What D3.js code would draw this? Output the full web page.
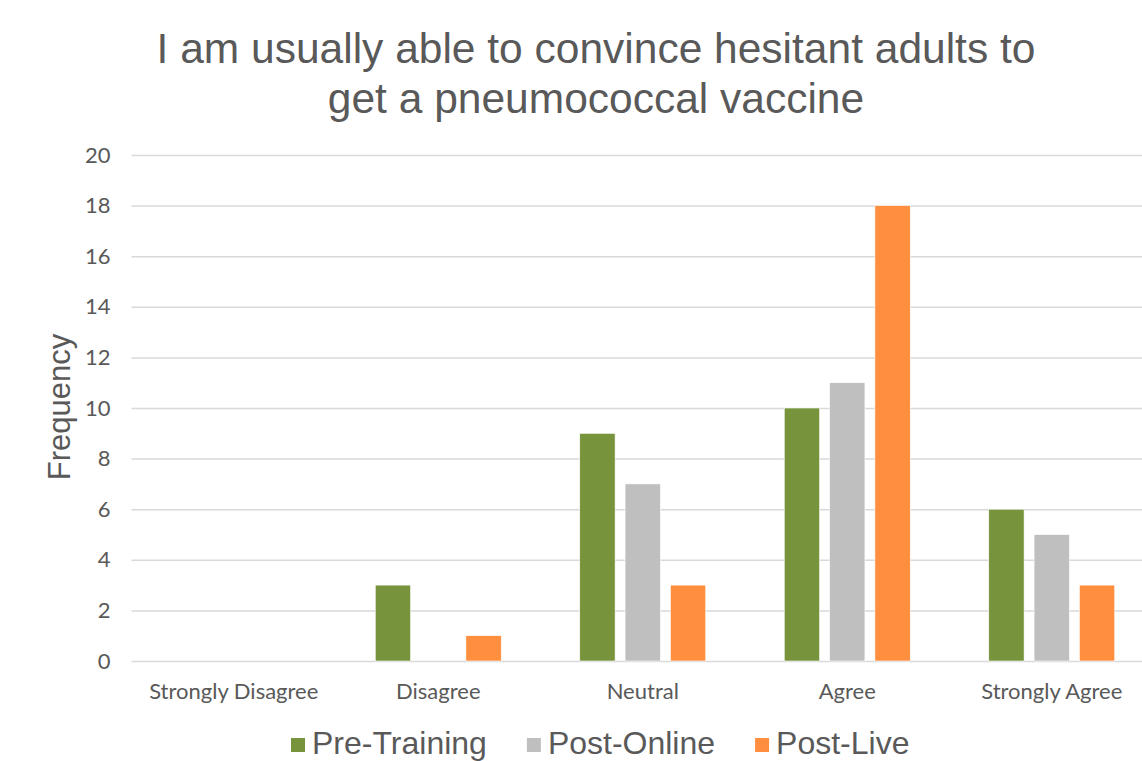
<!DOCTYPE html>
<html>
<head>
<meta charset="utf-8">
<script src="https://cdn.jsdelivr.net/npm/d3@7/dist/d3.min.js"></script>
<style>
  html, body { margin: 0; padding: 0; background: #fff; overflow: hidden; }
  svg { display: block; }
</style>
</head>
<body>
<svg id="chart" width="1142" height="761"></svg>
<script>
const titleLines = ["I am usually able to convince hesitant adults to", "get a pneumococcal vaccine"];
const yLabel = "Frequency";
const categories = ["Strongly Disagree", "Disagree", "Neutral", "Agree", "Strongly Agree"];
const seriesNames = ["Pre-Training", "Post-Online", "Post-Live"];
const preTraining = [0, 3, 9, 10, 6];
const postOnline = [0, 0, 7, 11, 5];
const postLive = [0, 1, 3, 18, 3];
const yTicks = [0, 2, 4, 6, 8, 10, 12, 14, 16, 18, 20];
const colors = ["#77933C", "#BFBFBF", "#FF8F3F"];

const seriesValues = [preTraining, postOnline, postLive];
const svg = d3.select("#chart");
const textColor = "#595959";

const x = d3.scaleBand().domain(categories).range([131.5, 1154]).padding(0);
const y = d3.scaleLinear().domain([0, 20]).range([661, 155]);
const groupW = 126;
const xi = d3.scaleBand().domain(seriesNames).range([0, groupW]).paddingInner(0.22);

// gridlines
const yAxis = d3.axisLeft(y).tickValues(yTicks).tickSize(-(1154 - 131.5)).tickPadding(21);
const gAxis = svg.append("g").attr("transform", "translate(131.5,0)").call(yAxis);
gAxis.select(".domain").remove();
gAxis.selectAll(".tick line").attr("stroke", "#D9D9D9").attr("stroke-width", 1.5);
gAxis.selectAll(".tick text")
  .attr("fill", textColor)
  .style("font-family", "Lato, 'Open Sans', sans-serif")
  .style("font-size", "22px");

// bars
const groups = svg.append("g").selectAll("g")
  .data(categories)
  .join("g")
  .attr("transform", d => `translate(${x(d) + x.bandwidth() / 2 - groupW / 2},0)`);

groups.selectAll("rect")
  .data((d, i) => seriesNames.map((s, j) => ({ s, v: seriesValues[j][i], c: colors[j] })))
  .join("rect")
  .filter(d => d.v > 0)
  .attr("x", d => xi(d.s))
  .attr("width", xi.bandwidth())
  .attr("y", d => y(d.v))
  .attr("height", d => y(0) - y(d.v))
  .attr("fill", d => d.c)
  .attr("stroke", "#ffffff")
  .attr("stroke-width", 0.6);

// x axis labels
const xAxis = d3.axisBottom(x).tickSize(0).tickPadding(0);
const gx = svg.append("g").attr("transform", "translate(0,661)").call(xAxis);
gx.select(".domain").remove();
gx.selectAll(".tick text")
  .attr("y", 38)
  .attr("dy", null)
  .attr("fill", textColor)
  .style("font-family", "Lato, 'Open Sans', sans-serif")
  .style("font-size", "22px");

// title
svg.append("g").selectAll("text")
  .data(titleLines)
  .join("text")
  .attr("x", 596)
  .attr("y", (d, i) => 63 + i * 50)
  .attr("text-anchor", "middle")
  .attr("fill", textColor)
  .style("font-family", "'Liberation Sans', Arial, sans-serif")
  .style("font-size", "42.5px")
  .text(d => d);

// y label
svg.append("text")
  .attr("transform", "translate(70,407) rotate(-90)")
  .attr("text-anchor", "middle")
  .attr("fill", textColor)
  .style("font-family", "'Liberation Sans', Arial, sans-serif")
  .style("font-size", "31px")
  .text(yLabel);

// legend
const legend = svg.append("g");
let lx = 291;
seriesNames.forEach((name, i) => {
  legend.append("rect")
    .attr("x", lx).attr("y", 738).attr("width", 14).attr("height", 14)
    .attr("fill", colors[i]);
  const t = legend.append("text")
    .attr("x", lx + 21).attr("y", 754)
    .attr("fill", textColor)
    .style("font-family", "'Liberation Sans', Arial, sans-serif")
    .style("font-size", "32px")
    .text(name);
  lx = lx + 21 + t.node().getComputedTextLength() + 40;
});
</script>
</body>
</html>
